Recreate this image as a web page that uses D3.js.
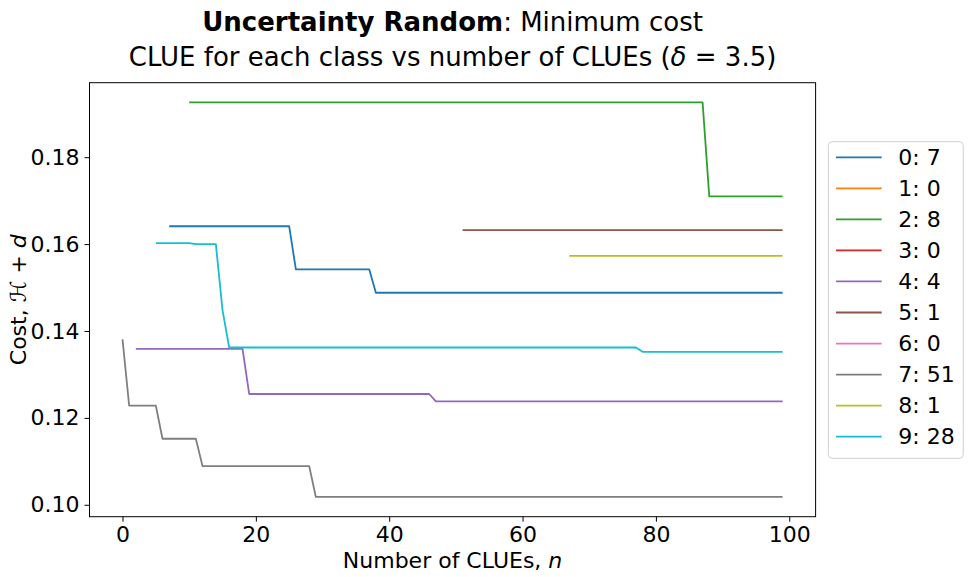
<!DOCTYPE html>
<html>
<head>
<meta charset="utf-8">
<script src="https://cdn.jsdelivr.net/npm/d3@7"></script>
<style>
  body { margin: 0; background: #fff; }
  svg { font-family: "DejaVu Sans", sans-serif; }
</style>
</head>
<body>
<div id="chart"></div>
<script>
// classes and number of CLUEs per class (legend)
var classNames = ["0", "1", "2", "3", "4", "5", "6", "7", "8", "9"];
var clueCounts = [7, 0, 8, 0, 4, 1, 0, 51, 1, 28];
var colors = ["#1f77b4", "#ff7f0e", "#2ca02c", "#d62728", "#9467bd",
              "#8c564b", "#e377c2", "#7f7f7f", "#bcbd22", "#17becf"];

// vertices of each min-cost curve: n and cost
var n0 = [7, 25, 26, 37, 38, 99];
var c0 = [0.1641, 0.1641, 0.1542, 0.1542, 0.1488, 0.1488];
var n2 = [10, 87, 88, 99];
var c2 = [0.1926, 0.1926, 0.1710, 0.1710];
var n4 = [2, 18, 19, 46, 47, 99];
var c4 = [0.1359, 0.1359, 0.1255, 0.1255, 0.1238, 0.1238];
var n5 = [51, 99];
var c5 = [0.1632, 0.1632];
var n7 = [0, 1, 5, 6, 11, 12, 28, 29, 99];
var c7 = [0.1381, 0.1228, 0.1228, 0.1152, 0.1152, 0.1089, 0.1089, 0.1018, 0.1018];
var n8 = [67, 99];
var c8 = [0.1573, 0.1573];
var n9 = [5, 10, 11, 14, 15, 16, 77, 78, 99];
var c9 = [0.1602, 0.1602, 0.1600, 0.1600, 0.1448, 0.1362, 0.1362, 0.1352, 0.1352];

var xTicks = [0, 20, 40, 60, 80, 100];
var yTicks = [0.10, 0.12, 0.14, 0.16, 0.18];

var series = [
  {k: 0, n: n0, c: c0}, {k: 2, n: n2, c: c2}, {k: 4, n: n4, c: c4},
  {k: 5, n: n5, c: c5}, {k: 7, n: n7, c: c7}, {k: 8, n: n8, c: c8},
  {k: 9, n: n9, c: c9}
];

var W = 970, H = 577;
var margin = {top: 82.7, right: W - 815.6, bottom: H - 516.7, left: 89.5};
var width = W - margin.left - margin.right,
    height = H - margin.top - margin.bottom;

var svg = d3.select("#chart").append("svg")
    .attr("width", W)
    .attr("height", H);

// matplotlib style 5% margins around the data
var allN = [].concat(n0, n2, n4, n5, n7, n8, n9);
var allC = [].concat(c0, c2, c4, c5, c7, c8, c9);
var nMin = d3.min(allN), nMax = d3.max(allN);
var cMin = d3.min(allC), cMax = d3.max(allC);
var nPad = (nMax - nMin) * 0.05, cPad = (cMax - cMin) * 0.05;

var x = d3.scaleLinear().domain([nMin - nPad, nMax + nPad]).range([0, width]);
var y = d3.scaleLinear().domain([cMin - cPad, cMax + cPad]).range([height, 0]);

var g = svg.append("g")
    .attr("transform", "translate(" + margin.left + "," + margin.top + ")");

var line = d3.line()
    .x(function(d) { return x(d[0]); })
    .y(function(d) { return y(d[1]); });

series.forEach(function(s) {
  var pts = s.n.map(function(v, i) { return [v, s.c[i]]; });
  g.append("path")
      .datum(pts)
      .attr("fill", "none")
      .attr("stroke", colors[s.k])
      .attr("stroke-width", 1.8)
      .attr("stroke-linejoin", "round")
      .attr("d", line);
});

// axes
var xAxis = g.append("g")
    .attr("transform", "translate(0," + height + ")")
    .call(d3.axisBottom(x).tickValues(xTicks).tickSize(5).tickPadding(5).tickFormat(d3.format("d")));
var yAxis = g.append("g")
    .call(d3.axisLeft(y).tickValues(yTicks).tickSize(5).tickPadding(5).tickFormat(d3.format(".2f")));
[xAxis, yAxis].forEach(function(a) {
  a.select(".domain").remove();
  a.selectAll("line").attr("stroke", "#000").attr("stroke-width", 1);
  a.selectAll("text").attr("font-size", 22).attr("fill", "#000")
      .attr("font-family", "DejaVu Sans");
});

// frame
g.append("rect")
    .attr("width", width).attr("height", height)
    .attr("fill", "none").attr("stroke", "#000").attr("stroke-width", 1);

// titles
var cx = margin.left + width / 2;
var t1 = svg.append("text").attr("x", cx).attr("y", 31)
    .attr("text-anchor", "middle").attr("font-size", 26);
t1.append("tspan").attr("font-weight", "bold").text("Uncertainty Random");
t1.append("tspan").text(": Minimum cost");
var t2 = svg.append("text").attr("x", cx).attr("y", 66)
    .attr("text-anchor", "middle").attr("font-size", 26);
t2.append("tspan").text("CLUE for each class vs number of CLUEs (");
t2.append("tspan").attr("font-style", "italic").text("δ");
t2.append("tspan").text(" = 3.5)");

// axis labels
var xl = svg.append("text").attr("x", cx).attr("y", 568)
    .attr("text-anchor", "middle").attr("font-size", 22);
xl.append("tspan").text("Number of CLUEs, ");
xl.append("tspan").attr("font-style", "italic").text("n");

var yl = svg.append("text")
    .attr("transform", "translate(26," + (margin.top + height / 2) + ") rotate(-90)")
    .attr("text-anchor", "middle").attr("font-size", 22);
yl.append("tspan").text("Cost, ");
yl.append("tspan").attr("font-style", "italic").text("ℋ");
yl.append("tspan").text(" + ");
yl.append("tspan").attr("font-style", "italic").text("d");

// legend
var leg = svg.append("g").attr("transform", "translate(828.3,141.7)");
leg.append("rect")
    .attr("width", 135).attr("height", 316.6).attr("rx", 4)
    .attr("fill", "#fff").attr("stroke", "#d0d0d0").attr("stroke-width", 1);
classNames.forEach(function(c, i) {
  var yy = 15.6 + i * 31.04;
  leg.append("line")
      .attr("x1", 7.7).attr("x2", 53.4).attr("y1", yy).attr("y2", yy)
      .attr("stroke", colors[i]).attr("stroke-width", 1.8);
  leg.append("text")
      .attr("x", 70).attr("y", yy).attr("dy", "0.35em")
      .attr("font-size", 22)
      .text(c + ": " + clueCounts[i]);
});
</script>
</body>
</html>
